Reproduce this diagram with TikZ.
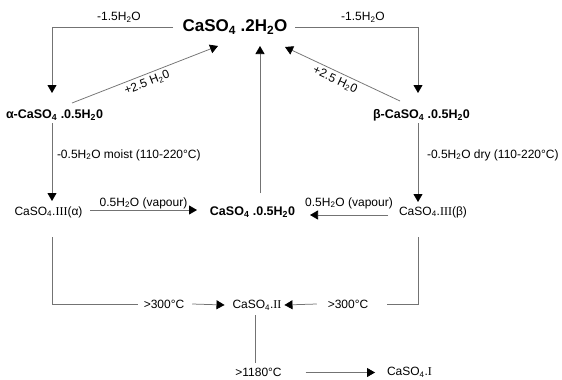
\documentclass[tikz,border=0pt]{standalone}
\usepackage{fontspec}
\usepackage{graphicx}
\setmainfont{Liberation Sans}
\newfontfamily\tms{Liberation Serif}
\usetikzlibrary{arrows.meta}
\newcommand{\sbs}[1]{\textsubscript{#1}}
\tikzset{
  every node/.style={inner sep=0pt, outer sep=0pt, text=black},
  lbl/.style={font=\fontsize{12}{14}\selectfont},
  bigtxt/.style={font=\fontsize{17}{19}\selectfont\bfseries},
  boldtxt/.style={font=\fontsize{12.5}{14}\selectfont\bfseries},
  conn/.style={draw=black!55, line width=0.75pt},
  arr/.style={conn, -{Triangle[width=9pt,length=8pt,color=black]}},
}
\begin{document}
\begin{tikzpicture}[x=1pt,y=-1pt]
\fill[white] (0,0) rectangle (562,380);
\useasboundingbox (0,0) rectangle (562,380);

% main nodes
\node[bigtxt] (title) at (235,27) {CaSO\sbs{4} .2H\sbs{2}O};
\node[boldtxt] (alpha) at (54.5,115) {α-CaSO\sbs{4} .0.5H\sbs{2}0};
\node[boldtxt] (beta) at (421.5,115) {β-CaSO\sbs{4} .0.5H\sbs{2}0};
\node[lbl] (IIIa) at (48.5,212) {CaSO\sbs{4}.{\tms III}(α)};
\node[boldtxt] (half) at (252.5,212) {CaSO\sbs{4} .0.5H\sbs{2}0};
\node[lbl] (IIIb) at (433,212) {CaSO\sbs{4}.{\tms III}(β)};
\node[lbl] (II) at (257,305) {CaSO\sbs{4}.{\tms II}};
\node[lbl] (t1180) at (258.5,372.5) {>1180°C};
\node[lbl] (I) at (409.5,372.5) {CaSO\sbs{4}.{\tms I}};
\node[lbl] (t300L) at (164,304) {>300°C};
\node[lbl] (t300R) at (348,304) {>300°C};

% labels
\node[lbl] (dL) at (119,17) {-1.5H\sbs{2}O};
\node[lbl] (dR) at (363,17) {-1.5H\sbs{2}O};
\node[lbl, anchor=west] (moist) at (57,155) {-0.5H\sbs{2}O moist (110-220°C)};
\node[lbl, anchor=west] (dry) at (427,155) {-0.5H\sbs{2}O dry (110-220°C)};
\node[lbl, rotate=21] (hL) at (147,83) {+2.5 H\sbs{2}0};
\node[lbl, rotate=-25] (hR) at (335,80) {+2.5 H\sbs{2}0};

% connectors top
\draw[arr] ([shift={(-62,0)}]title.center) -| ([shift={(-2.5,-22)}]alpha.center);
\draw[arr] ([shift={(60,0)}]title.center) -| ([shift={(-3.5,-22)}]beta.center);
\draw[arr] ([shift={(17.5,-12)}]alpha.center) -- ([shift={(-17,19)}]title.center);
\draw[arr] ([shift={(-21.5,-14)}]beta.center) -- ([shift={(50,20)}]title.center);
\draw[arr] ([shift={(7.5,-19)}]half.center) -- ([shift={(25,19)}]title.center);

% middle
\draw[arr] ([shift={(-2.5,8)}]alpha.center) -- ([shift={(3.5,-11)}]IIIa.center);
\draw[arr] ([shift={(-3.5,8)}]beta.center) -- ([shift={(-15,-10)}]IIIb.center);
\draw[arr] ([shift={(41.5,-2)}]IIIa.center) -- node[lbl, yshift=7pt] (vL) {0.5H\sbs{2}O (vapour)} ([shift={(-55.5,-2)}]half.center);
\draw[arr] ([shift={(-45,3)}]IIIb.center) -- node[lbl, yshift=12pt] (vR) {0.5H\sbs{2}O (vapour)} ([shift={(57.5,3)}]half.center);

% bottom
\draw[conn] ([shift={(3.5,25)}]IIIa.center) |- ([xshift=-6pt]t300L.west);
\draw[arr] ([xshift=8pt]t300L.east) -- ([xshift=-8pt]II.west);
\draw[conn] ([shift={(-15,25)}]IIIb.center) |- ([xshift=19pt]t300R.east);
\draw[arr] ([xshift=-11pt]t300R.west) -- ([xshift=3pt]II.east);
\draw[conn] ([shift={(-2,10)}]II.center) -- ([shift={(-3.5,-10)}]t1180.center);
\draw[arr] ([xshift=24pt]t1180.east) -- ([xshift=-12pt]I.west);
\end{tikzpicture}
\end{document}
